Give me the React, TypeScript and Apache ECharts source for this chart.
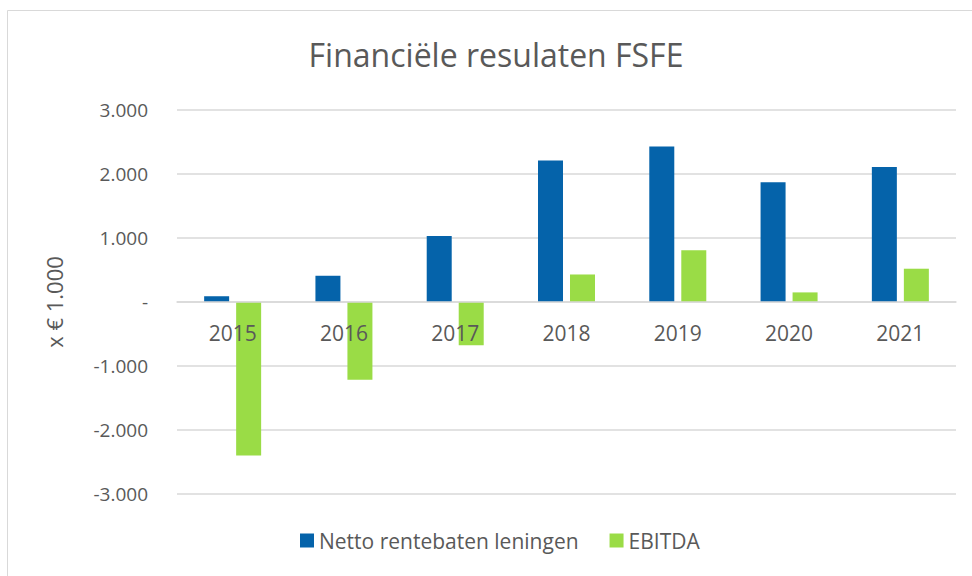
import React, { useEffect, useRef } from "react";
import * as echarts from "echarts";

const years = ["2015", "2016", "2017", "2018", "2019", "2020", "2021"];
const nettoRentebaten = [90, 410, 1030, 2210, 2430, 1870, 2110];
const ebitda = [-2400, -1215, -675, 430, 810, 150, 520];
const seriesNames = ["Netto rentebaten leningen", "EBITDA"];
const titleText = "Financiële resulaten FSFE";
const yAxisName = "x € 1.000";

const FONT = "'Open Sans', sans-serif";
const TEXT = "#595959";
const GRID = "#D9D9D9";

function fmt(v: number): string {
  if (v === 0) return "-";
  const s = Math.abs(v).toString().replace(/\B(?=(\d{3})+(?!\d))/g, ".");
  return (v < 0 ? "-" : "") + s;
}

export default function App() {
  const ref = useRef<HTMLDivElement>(null);
  useEffect(() => {
    if (!ref.current) return;
    const chart = echarts.init(ref.current, undefined, { renderer: "svg" });
    chart.setOption({
      animation: false,
      backgroundColor: "#ffffff",
      textStyle: { fontFamily: FONT },
      title: {
        text: titleText,
        left: 491,
        textAlign: "center",
        top: 33,
        textStyle: { fontFamily: FONT, fontSize: 32, fontWeight: "normal", color: TEXT },
      },
      graphic: [
        {
          type: "rect",
          shape: { x: 7.5, y: 10.5, width: 1000, height: 700 },
          style: { fill: "none", stroke: GRID, lineWidth: 1 },
          silent: true,
        },
      ],
      legend: {
        data: seriesNames,
        bottom: 20,
        left: 295,
        itemWidth: 14,
        itemHeight: 14,
        itemGap: 31,
        icon: "rect",
        textStyle: { fontFamily: FONT, fontSize: 21, color: TEXT },
      },
      grid: { left: 177, right: 16, top: 110, bottom: 82, containLabel: false },
      xAxis: {
        type: "category",
        data: years,
        offset: -192,
        z: 5,
        axisLine: { onZero: false, lineStyle: { color: GRID, width: 1.5 } },
        axisTick: { show: false },
        axisLabel: { fontFamily: FONT, fontSize: 21, color: TEXT, margin: 20 },
      },
      yAxis: {
        type: "value",
        min: -3000,
        max: 3000,
        interval: 1000,
        name: yAxisName,
        nameLocation: "middle",
        nameGap: 112,
        nameTextStyle: { fontFamily: FONT, fontSize: 22, color: TEXT },
        axisLine: { show: false },
        axisTick: { show: false },
        splitLine: { lineStyle: { color: GRID, width: 1.5 } },
        axisLabel: {
          fontFamily: FONT,
          fontSize: 19,
          color: TEXT,
          margin: 29,
          formatter: (v: number) => fmt(v),
        },
      },
      series: [
        {
          name: seriesNames[0],
          type: "bar",
          data: nettoRentebaten,
          barWidth: 25,
          barGap: "28%",
          itemStyle: { color: "#0563AA" },
        },
        {
          name: seriesNames[1],
          type: "bar",
          data: ebitda,
          barWidth: 25,
          barGap: "28%",
          itemStyle: { color: "#9ADC46" },
        },
      ],
    });
    return () => chart.dispose();
  }, []);
  return (
    <div
      ref={ref}
      style={{ position: "absolute", left: 0, top: 0, width: 972, height: 576 }}
    />
  );
}
